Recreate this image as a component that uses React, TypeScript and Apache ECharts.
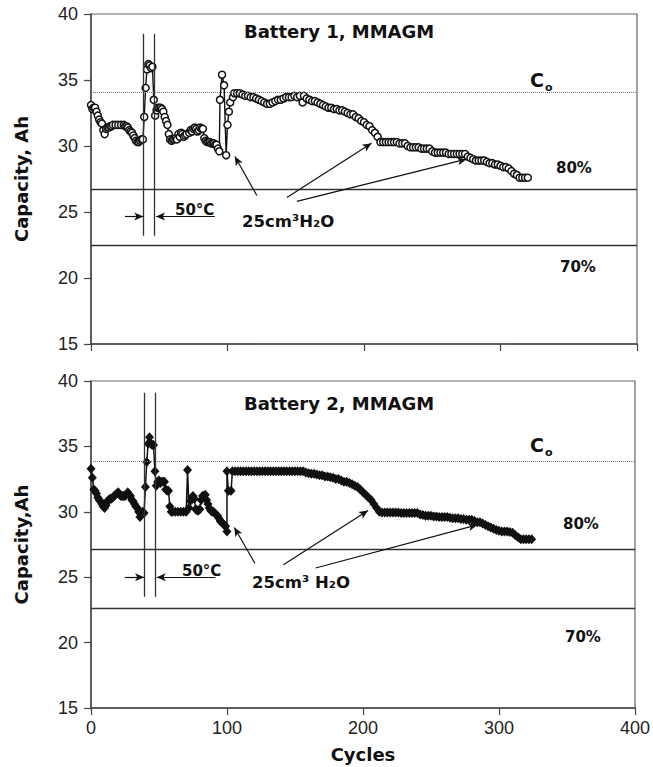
import React, { useEffect, useRef } from "react";
import * as echarts from "echarts";

// Battery 1, MMAGM: [cycle, capacity Ah]
const battery1: [number, number][] = [
  [0, 33.1], [1, 32.8], [2, 32.9], [3, 32.9], [4, 32.6], [5, 32.3], [6, 32.0], [7, 31.8], [8, 31.7], [9, 31.2],
  [10, 30.9], [11, 31.3], [12, 31.4], [13, 31.4], [14, 31.5], [15, 31.5], [16, 31.6], [18, 31.6], [20, 31.6], [22, 31.6],
  [24, 31.6], [25, 31.5], [26, 31.5], [27, 31.4], [28, 31.2], [29, 31.1], [30, 31.0], [31, 30.8], [32, 30.6], [33, 30.4],
  [34, 30.3], [35, 30.3], [36, 30.4], [37, 30.5], [38, 30.5], [39, 32.2], [40, 34.4], [41, 35.8], [42, 36.2], [43, 36.1],
  [44, 35.9], [45, 36.0], [46, 33.5], [47, 32.3], [48, 32.7], [49, 32.9], [50, 32.9], [51, 32.9], [52, 32.8], [53, 32.6],
  [54, 32.2], [55, 31.9], [56, 31.6], [57, 30.9], [58, 30.5], [59, 30.4], [60, 30.5], [61, 30.5], [62, 30.6], [63, 30.5],
  [64, 30.9], [65, 30.7], [66, 31.0], [67, 30.9], [68, 30.7], [69, 30.8], [70, 30.9], [72, 31.0], [73, 31.2], [74, 31.1],
  [75, 31.3], [76, 31.4], [77, 31.3], [78, 31.1], [79, 31.2], [80, 31.4], [81, 31.3], [82, 31.3], [83, 30.6], [84, 30.4],
  [85, 30.3], [86, 30.3], [87, 30.3], [88, 30.2], [89, 30.2], [90, 30.2], [91, 30.1], [92, 30.1], [93, 29.8], [94, 29.6],
  [94.5, 33.5], [96, 35.4], [97.5, 34.6], [99, 29.3], [100, 31.6], [101, 32.6], [102, 33.3], [104, 33.7], [105, 34.0], [107, 34.0],
  [109, 34.0], [111, 33.9], [113, 33.8], [115, 33.8], [117, 33.7], [119, 33.7], [121, 33.6], [123, 33.5], [125, 33.4], [127, 33.3],
  [129, 33.2], [131, 33.2], [133, 33.3], [135, 33.4], [137, 33.5], [139, 33.5], [141, 33.6], [143, 33.7], [145, 33.7], [147, 33.7],
  [149, 33.8], [151, 33.7], [153, 33.8], [155, 33.3], [156, 33.8], [158, 33.6], [160, 33.5], [162, 33.4], [164, 33.4], [166, 33.3],
  [168, 33.2], [170, 33.1], [172, 33.0], [174, 32.9], [176, 32.9], [178, 32.8], [180, 32.8], [182, 32.7], [184, 32.7], [186, 32.6],
  [188, 32.5], [190, 32.4], [192, 32.4], [194, 32.2], [196, 32.1], [198, 31.9], [200, 31.8], [202, 31.6], [204, 31.5], [206, 31.2],
  [208, 31.0], [210, 30.7], [212, 30.3], [214, 30.3], [216, 30.3], [218, 30.3], [220, 30.3], [222, 30.3], [224, 30.3], [226, 30.2],
  [228, 30.2], [230, 30.2], [232, 30.0], [234, 29.9], [236, 29.9], [238, 29.9], [240, 29.9], [242, 29.8], [244, 29.8], [246, 29.8],
  [248, 29.8], [250, 29.6], [252, 29.5], [254, 29.5], [256, 29.5], [258, 29.5], [260, 29.5], [262, 29.4], [264, 29.4], [266, 29.4],
  [268, 29.4], [270, 29.4], [272, 29.4], [274, 29.4], [276, 29.2], [278, 29.1], [280, 29.0], [282, 28.9], [284, 28.9], [286, 28.9],
  [288, 28.9], [290, 28.8], [292, 28.7], [294, 28.7], [296, 28.6], [298, 28.6], [300, 28.5], [302, 28.4], [304, 28.4], [306, 28.3],
  [308, 28.1], [310, 27.9], [312, 27.8], [314, 27.6], [316, 27.6], [318, 27.6], [320, 27.6],
];

// Battery 2, MMAGM: [cycle, capacity Ah]
const battery2: [number, number][] = [
  [0, 33.3], [1, 32.6], [2, 31.7], [3, 31.6], [4, 31.4], [5, 31.1], [6, 30.9], [7, 30.8], [8, 30.6], [9, 30.4],
  [10, 30.3], [11, 30.5], [12, 30.8], [13, 30.9], [14, 31.0], [15, 31.0], [16, 31.1], [17, 31.2], [18, 31.3], [19, 31.4],
  [20, 31.5], [21, 31.3], [22, 31.2], [23, 31.2], [24, 31.2], [25, 31.2], [26, 31.3], [27, 31.5], [28, 31.3], [29, 31.2],
  [30, 30.9], [31, 30.8], [32, 30.6], [33, 30.4], [34, 30.3], [35, 30.0], [36, 29.6], [37, 29.8], [38, 30.0], [39, 29.9],
  [40, 31.9], [41, 33.8], [42, 35.2], [43, 35.7], [44, 35.2], [45, 35.1], [46, 35.1], [47, 33.1], [48, 32.0], [49, 32.3],
  [50, 32.4], [51, 32.2], [52, 32.3], [53, 32.3], [54, 32.3], [55, 31.7], [56, 31.6], [57, 31.6], [58, 30.4], [59, 30.0],
  [60, 30.0], [62, 30.0], [64, 30.0], [66, 30.0], [68, 30.0], [70, 30.0], [71, 33.2], [72, 30.3], [73, 30.8], [74, 31.1],
  [75, 31.2], [76, 31.0], [77, 30.2], [78, 30.1], [79, 30.1], [80, 30.2], [81, 30.9], [82, 31.2], [83, 31.2], [84, 31.3],
  [85, 30.9], [86, 30.6], [87, 30.3], [88, 30.1], [89, 30.0], [90, 30.0], [91, 29.9], [92, 29.8], [93, 29.7], [94, 29.5],
  [95, 29.3], [96, 29.2], [97, 29.1], [98, 29.0], [99, 28.9], [100, 28.5], [100, 33.1], [101, 31.6], [103, 31.6], [104, 33.1],
  [106, 33.1], [108, 33.1], [110, 33.1], [112, 33.1], [114, 33.1], [116, 33.1], [118, 33.1], [120, 33.1], [122, 33.1], [124, 33.1],
  [126, 33.1], [128, 33.1], [130, 33.1], [132, 33.1], [134, 33.1], [136, 33.1], [138, 33.1], [140, 33.1], [142, 33.1], [144, 33.1],
  [146, 33.1], [148, 33.1], [150, 33.1], [152, 33.1], [154, 33.1], [156, 33.1], [158, 33.0], [160, 32.95], [162, 32.9], [164, 32.9],
  [166, 32.85], [168, 32.8], [170, 32.8], [172, 32.7], [174, 32.7], [176, 32.65], [178, 32.6], [180, 32.5], [182, 32.5], [184, 32.4],
  [186, 32.3], [188, 32.3], [190, 32.2], [192, 32.1], [194, 32.0], [196, 31.9], [198, 31.7], [200, 31.5], [202, 31.3], [204, 31.1],
  [206, 30.9], [208, 30.6], [210, 30.3], [212, 30.0], [214, 29.95], [216, 29.95], [218, 29.95], [220, 29.95], [222, 29.95], [224, 29.95],
  [226, 29.95], [228, 29.9], [230, 29.9], [232, 29.9], [234, 29.9], [236, 29.9], [238, 29.9], [240, 29.9], [242, 29.8], [244, 29.75],
  [246, 29.7], [248, 29.7], [250, 29.7], [252, 29.65], [254, 29.65], [256, 29.6], [258, 29.6], [260, 29.6], [262, 29.6], [264, 29.55],
  [266, 29.5], [268, 29.5], [270, 29.5], [272, 29.45], [274, 29.45], [276, 29.4], [278, 29.4], [280, 29.4], [282, 29.3], [284, 29.2],
  [286, 29.2], [288, 29.1], [290, 29.0], [292, 28.9], [294, 28.8], [296, 28.7], [298, 28.6], [300, 28.55], [302, 28.5], [304, 28.5],
  [306, 28.5], [308, 28.45], [310, 28.4], [312, 28.2], [314, 28.05], [316, 27.9], [318, 27.9], [320, 27.9], [322, 27.9], [324, 27.9],
];

// Reference levels: [Co, 80%, 70%]
const levels1 = [34.1, 26.7, 22.5];
const levels2 = [33.85, 27.1, 22.6];

// 50°C window (cycle start, end) and vertical extent
const hot1 = [38.3, 46.3];
const hot2 = [39, 47.4];
const hotSpan1 = [38.5, 23.2];
const hotSpan2 = [39.1, 23.5];

// Arrow annotations: [fromCycle, fromCap, toCycle, toCap]
const arrows1: number[][] = [
  [24.9, 24.66, 38.3, 24.66],
  [90.8, 24.66, 47.6, 24.66],
  [121.5, 26.25, 105.4, 29.2],
  [143.5, 26.1, 205.5, 30.2],
  [150.8, 25.8, 275, 29.0],
];
const arrows2: number[][] = [
  [24.9, 25.0, 39, 25.0],
  [91.5, 25.0, 48.3, 25.0],
  [120.6, 26.05, 105.4, 28.8],
  [141.5, 25.95, 203.7, 30.1],
  [165.2, 25.7, 284, 29.0],
];

const xTicks = { min: 0, max: 400, interval: 100 };
const yTicks = { min: 15, max: 40, interval: 5 };

const tickFont = '"Liberation Sans", Arial, sans-serif';
const boldFont = '"DejaVu Sans", sans-serif';

function markLines(levels: number[], hot: number[], span: number[], arrows: number[][]) {
  const data: any[] = [
    { yAxis: levels[0], lineStyle: { type: "dotted", color: "#777", width: 1 } },
    { yAxis: levels[1], lineStyle: { type: "solid", color: "#333", width: 1.3 } },
    { yAxis: levels[2], lineStyle: { type: "solid", color: "#333", width: 1.3 } },
  ];
  hot.forEach((c) => {
    data.push([
      { coord: [c, span[0]], symbol: "none", lineStyle: { color: "#333", width: 1.3, type: "solid" } },
      { coord: [c, span[1]], symbol: "none" },
    ]);
  });
  arrows.forEach((a) => {
    data.push([
      { coord: [a[0], a[1]], symbol: "none", lineStyle: { color: "#111", width: 1.2, type: "solid" } },
      { coord: [a[2], a[3]], symbol: "arrow", symbolSize: [6, 9] },
    ]);
  });
  return {
    silent: true,
    symbol: "none",
    label: { show: false },
    emphasis: { disabled: true },
    data,
  };
}

function txt(text: string, x: number, y: number, size: number, weight = "bold", family = boldFont) {
  return {
    type: "text",
    x,
    y,
    silent: true,
    style: {
      text,
      font: `${weight} ${size}px ${family}`,
      fill: "#111",
      textAlign: "left",
      textVerticalAlign: "middle",
      verticalAlign: "middle",
    },
  };
}

function axisX(gridIndex: number, showLabels: boolean) {
  return {
    type: "value",
    gridIndex,
    ...xTicks,
    splitLine: { show: false },
    axisLine: { show: true, onZero: false, lineStyle: { color: "#444", width: 1.5 } },
    axisTick: { show: true, inside: false, length: 7, lineStyle: { color: "#444", width: 1.2 } },
    axisLabel: {
      show: showLabels,
      fontFamily: tickFont,
      fontSize: 18,
      color: "#222",
      margin: 11,
    },
    name: showLabels ? "Cycles" : "",
    nameLocation: "middle",
    nameGap: 37,
    nameTextStyle: { fontFamily: boldFont, fontWeight: "bold", fontSize: 18, color: "#111" },
  };
}

function axisY(gridIndex: number, name: string) {
  return {
    type: "value",
    gridIndex,
    ...yTicks,
    splitLine: { show: false },
    axisLine: { show: true, onZero: false, lineStyle: { color: "#444", width: 1.5 } },
    axisTick: { show: true, inside: false, length: 7, lineStyle: { color: "#444", width: 1.2 } },
    axisLabel: { fontFamily: tickFont, fontSize: 18, color: "#222", margin: 13 },
    name,
    nameLocation: "middle",
    nameGap: 61,
    nameRotate: 90,
    nameTextStyle: { fontFamily: boldFont, fontWeight: "bold", fontSize: 18, color: "#111" },
  };
}

export default function App() {
  const ref = useRef<HTMLDivElement>(null);
  useEffect(() => {
    if (!ref.current) return;
    const chart = echarts.init(ref.current, undefined, { renderer: "svg" });
    chart.setOption({
      animation: false,
      backgroundColor: "#fff",
      grid: [
        { left: 91, top: 14, width: 546, height: 330, show: true, borderColor: "#666", borderWidth: 1.2, containLabel: false },
        { left: 91, top: 381, width: 546, height: 327, show: true, borderColor: "#666", borderWidth: 1.2, containLabel: false },
      ],
      xAxis: [axisX(0, false), axisX(1, true)],
      yAxis: [axisY(0, "Capacity, Ah"), axisY(1, "Capacity,Ah")],
      series: [
        {
          type: "line",
          xAxisIndex: 0,
          yAxisIndex: 0,
          data: battery1,
          symbol: "circle",
          symbolSize: 7,
          showAllSymbol: true,
          lineStyle: { color: "#111", width: 1.4 },
          itemStyle: { color: "#fff", borderColor: "#111", borderWidth: 1.5 },
          emphasis: { disabled: true },
          markLine: markLines(levels1, hot1, hotSpan1, arrows1),
        },
        {
          type: "line",
          xAxisIndex: 1,
          yAxisIndex: 1,
          data: battery2,
          symbol: "diamond",
          symbolSize: [9, 10],
          showAllSymbol: true,
          lineStyle: { color: "#111", width: 1.5 },
          itemStyle: { color: "#111", borderColor: "#111", borderWidth: 0 },
          emphasis: { disabled: true },
          markLine: markLines(levels2, hot2, hotSpan2, arrows2),
        },
      ],
      graphic: [
        txt("Battery 1, MMAGM", 244, 31, 18),
        txt("C", 530, 80, 19),
        txt("o", 545, 87, 11),
        txt("80%", 556, 168, 15),
        txt("70%", 560, 267, 15),
        txt("50°C", 175, 210, 15),
        txt("25cm³H₂O", 242, 221, 16.5),
        txt("Battery 2, MMAGM", 244, 403, 18),
        txt("C", 530, 445, 19),
        txt("o", 545, 452, 11),
        txt("80%", 563, 524, 15),
        txt("70%", 565, 637, 15),
        txt("50°C", 182, 571, 15),
        txt("25cm³ H₂O", 252, 582, 16.5),
      ],
    });
    return () => chart.dispose();
  }, []);
  return (
    <div
      ref={ref}
      style={{ position: "fixed", left: 0, top: 0, width: 653, height: 767, background: "#fff" }}
    />
  );
}
